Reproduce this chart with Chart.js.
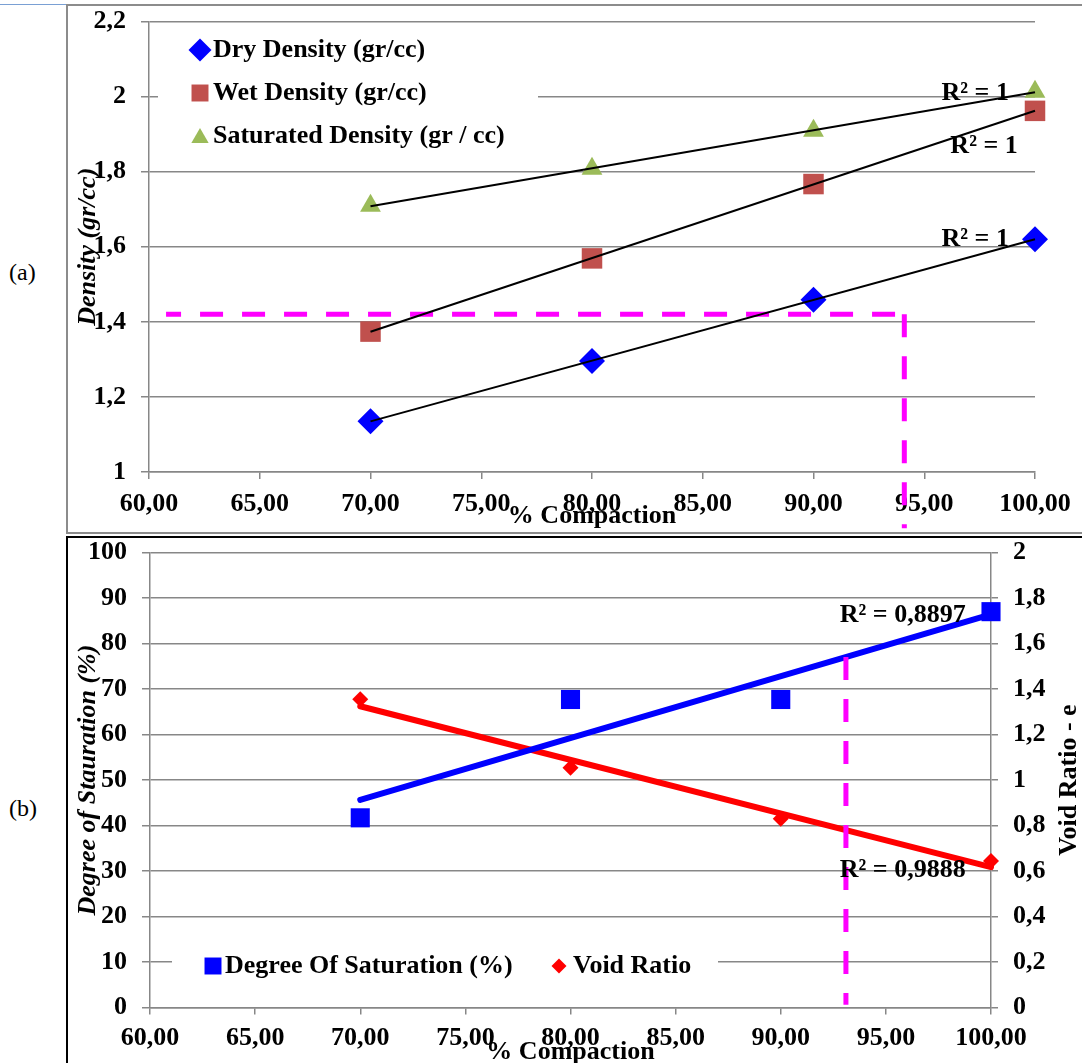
<!DOCTYPE html>
<html>
<head>
<meta charset="utf-8">
<script src="https://cdn.jsdelivr.net/npm/chart.js@4.4.1/dist/chart.umd.min.js"></script>
<style>
  body { margin: 0; width: 1082px; height: 1063px; overflow: hidden; background: #fff; position: relative; font-family: "Liberation Serif", "Times New Roman", serif; }
  .box { position: absolute; left: 66px; width: 1030px; box-sizing: border-box; }
  #boxA { top: 4px; height: 530px; border: 2px solid #8c8c8c; }
  #boxB { top: 536px; height: 600px; border: 2px solid #000; }
  #headLine { position: absolute; left: 0; top: 4px; width: 66px; height: 1px; background: #7aa0d4; }
  .tag { position: absolute; left: 9px; font-size: 24px; color: #000; }
  canvas { position: absolute; }
  #chartA { left: 69px; top: 7px; }
  #chartB { left: 69px; top: 539px; }
</style>
</head>
<body>
<div id="headLine"></div>
<div class="box" id="boxA"></div>
<div class="box" id="boxB"></div>
<div class="tag" style="top:259px">(a)</div>
<div class="tag" style="top:795px">(b)</div>
<canvas id="chartA" width="1013" height="525"></canvas>
<canvas id="chartB" width="1013" height="524"></canvas>
<script>
// values
const compaction = [70, 80, 90, 100];
const dryDensity = [1.135, 1.296, 1.459, 1.62];
const wetDensity = [1.374, 1.569, 1.767, 1.962];
const satDensity = [1.709, 1.808, 1.909, 2.013];
const saturation = [41.7, 67.7, 67.7, 87.0];
const voidRatio = [1.355, 1.054, 0.83, 0.644];

const compactionTicks = [60, 65, 70, 75, 80, 85, 90, 95, 100];
const densityTicks = [1, 1.2, 1.4, 1.6, 1.8, 2, 2.2];
const saturationTicks = [0, 10, 20, 30, 40, 50, 60, 70, 80, 90, 100];
const voidTicks = [0, 0.2, 0.4, 0.6, 0.8, 1, 1.2, 1.4, 1.6, 1.8, 2];

const densityLabels = ['Dry Density (gr/cc)', 'Wet Density (gr/cc)', 'Saturated Density (gr / cc)'];
const bottomLabels = ['Degree Of Saturation (%)', 'Void Ratio'];
const densityR2 = ['R² = 1', 'R² = 1', 'R² = 1'];
const densityR2At = [[97.3, 1.621], [97.7, 1.868], [97.3, 2.01]];
const bottomR2 = ['R² = 0,8897', 'R² = 0,9888'];
const bottomR2At = [[95.8, 86.3], [95.8, 0.605]];

// pink guide lines (data units)
const densityGuide = { from: 60.77, compaction: 94.1, density: 1.42, down: 0.85 };
const saturationGuide = { compaction: 93.1, down: 0.6 };

const serif = '"Liberation Serif", "Times New Roman", serif';
const gridColor = '#878787';
const tickFont = { family: serif, size: 26, weight: 'bold', lineHeight: 1.2 };
const pink = '#FF00FF';

function points(xs, ys) {
  return xs.map((x, i) => ({ x: x, y: ys[i] }));
}

function linearFit(xs, ys) {
  const n = xs.length;
  const mx = xs.reduce((a, b) => a + b, 0) / n;
  const my = ys.reduce((a, b) => a + b, 0) / n;
  let sxy = 0, sxx = 0;
  xs.forEach((x, i) => {
    sxy += (x - mx) * (ys[i] - my);
    sxx += (x - mx) * (x - mx);
  });
  const m = sxy / sxx;
  return x => my + m * (x - mx);
}

function trend(xs, ys) {
  const f = linearFit(xs, ys);
  const a = xs[0], b = xs[xs.length - 1];
  return [{ x: a, y: f(a) }, { x: b, y: f(b) }];
}

function comma(v, d) {
  return (d === undefined ? String(Math.round(v * 10) / 10) : v.toFixed(d)).replace('.', ',');
}

function marker(ctx, style, x, y, r, color) {
  ctx.save();
  ctx.fillStyle = color;
  ctx.beginPath();
  if (style === 'rectRot') {
    ctx.moveTo(x - r, y); ctx.lineTo(x, y - r); ctx.lineTo(x + r, y); ctx.lineTo(x, y + r);
  } else if (style === 'rect') {
    const s = r * Math.SQRT1_2;
    ctx.rect(x - s, y - s, 2 * s, 2 * s);
  } else {
    ctx.moveTo(x, y - r); ctx.lineTo(x + r * 0.866, y + r / 2); ctx.lineTo(x - r * 0.866, y + r / 2);
  }
  ctx.closePath();
  ctx.fill();
  ctx.restore();
}

function rotatedText(ctx, text, x, y, font) {
  ctx.save();
  ctx.translate(x, y);
  ctx.rotate(-Math.PI / 2);
  ctx.font = font;
  ctx.fillStyle = '#000';
  ctx.textAlign = 'center';
  ctx.textBaseline = 'middle';
  ctx.fillText(text, 0, 0);
  ctx.restore();
}

function dashed(ctx, x0, y0, x1, y1, offset) {
  ctx.save();
  ctx.strokeStyle = pink;
  ctx.lineWidth = 5;
  ctx.setLineDash([23, 19]);
  ctx.lineDashOffset = offset || 0;
  ctx.beginPath();
  ctx.moveTo(x0, y0);
  ctx.lineTo(x1, y1);
  ctx.stroke();
  ctx.restore();
}

function xScaleOpts(height, pad) {
  return {
    type: 'linear', min: 60, max: 100,
    afterBuildTicks: s => { s.ticks = compactionTicks.map(v => ({ value: v })); },
    grid: { drawOnChartArea: false, color: gridColor, lineWidth: 1.5, tickLength: 7 },
    border: { color: gridColor, width: 1.5 },
    ticks: { color: '#000', font: tickFont, padding: pad, maxRotation: 0, autoSkip: false, callback: v => comma(v, 2) },
    afterFit: s => { s.height = height; s.paddingLeft = 0; s.paddingRight = 0; }
  };
}

function yScaleOpts(pos, min, max, tickList, width, onChart) {
  return {
    type: 'linear', position: pos, min: min, max: max,
    afterBuildTicks: s => { s.ticks = tickList.map(v => ({ value: v })); },
    grid: { drawOnChartArea: onChart, color: gridColor, lineWidth: 1.5, tickLength: pos === 'left' ? 8 : 7 },
    border: { color: gridColor, width: 1.5 },
    ticks: { color: '#000', font: tickFont, padding: 15, autoSkip: false, callback: v => comma(v) },
    afterFit: s => { s.width = width; s.paddingTop = 0; s.paddingBottom = 0; }
  };
}

// ---------- (a) density ----------
const densitySeries = [dryDensity, wetDensity, satDensity];
const densityStyles = ['rectRot', 'rect', 'triangle'];
const densityColors = ['#0000FF', '#C0504D', '#9BBB59'];
const densityRadius = [13, 14.5, 12];

const overlayA = {
  id: 'overlayA',
  beforeDatasetsDraw(chart) {
    const ctx = chart.ctx;
    const { x, y } = chart.scales;
    ctx.save();
    ctx.fillStyle = '#fff';
    ctx.fillRect(89, 18, 380, 135);
    ctx.font = 'bold 26px ' + serif;
    ctx.fillStyle = '#000';
    ctx.textBaseline = 'middle';
    ctx.textAlign = 'left';
    const legendR = [11.5, 12, 10];
    densityLabels.forEach((lbl, i) => {
      const ly = 43 + i * 43;
      marker(ctx, densityStyles[i], 131, ly + (densityStyles[i] === 'triangle' ? 2 : 0), legendR[i], densityColors[i]);
      ctx.fillText(lbl, 144, ly);
    });
    ctx.restore();
    // guide lines
    const gy = y.getPixelForValue(densityGuide.density);
    const gx = x.getPixelForValue(densityGuide.compaction);
    dashed(ctx, x.getPixelForValue(densityGuide.from), gy, gx, gy, 8);
    dashed(ctx, gx, gy, gx, y.getPixelForValue(densityGuide.down), 0);
  },
  afterDatasetsDraw(chart) {
    const ctx = chart.ctx;
    const { x, y } = chart.scales;
    ctx.save();
    ctx.font = 'bold 26px ' + serif;
    ctx.fillStyle = '#000';
    ctx.textAlign = 'center';
    ctx.textBaseline = 'middle';
    densityR2.forEach((t, i) => {
      ctx.fillText(t, x.getPixelForValue(densityR2At[i][0]), y.getPixelForValue(densityR2At[i][1]));
    });
    ctx.restore();
  },
  afterDraw(chart) {
    const ctx = chart.ctx;
    const a = chart.chartArea;
    rotatedText(ctx, 'Density (gr/cc)', 19, (a.top + a.bottom) / 2, 'italic bold 26px ' + serif);
    ctx.save();
    ctx.font = 'bold 26px ' + serif;
    ctx.fillStyle = '#000';
    ctx.textAlign = 'center';
    ctx.textBaseline = 'middle';
    ctx.fillText('% Compaction', (a.left + a.right) / 2, 509);
    ctx.restore();
  }
};

const densityDatasets = [];
densitySeries.forEach((s, i) => {
  densityDatasets.push({
    label: densityLabels[i] + ' trend', data: trend(compaction, s), showLine: true,
    borderColor: '#000', borderWidth: 2, pointRadius: 0, order: 0, clip: false
  });
});
densitySeries.forEach((s, i) => {
  densityDatasets.push({
    label: densityLabels[i], data: points(compaction, s), pointStyle: densityStyles[i],
    pointRadius: densityRadius[i], backgroundColor: densityColors[i], borderWidth: 0, order: 1, clip: false
  });
});

new Chart(document.getElementById('chartA'), {
  type: 'scatter',
  data: { datasets: densityDatasets },
  options: {
    responsive: false, animation: false, events: [],
    layout: { padding: { top: 13, right: 47, left: 0, bottom: 0 } },
    plugins: { legend: { display: false }, tooltip: { enabled: false } },
    scales: {
      x: xScaleOpts(60, 10),
      y: yScaleOpts('left', 1, 2.2, densityTicks, 80, true)
    }
  },
  plugins: [overlayA]
});

// ---------- (b) saturation / void ratio ----------
const satTrend = linearFit(compaction, saturation);

const overlayB = {
  id: 'overlayB',
  beforeDatasetsDraw(chart) {
    const ctx = chart.ctx;
    ctx.save();
    ctx.fillStyle = '#fff';
    ctx.fillRect(103, 404, 546, 45);
    ctx.font = 'bold 26px ' + serif;
    ctx.fillStyle = '#000';
    ctx.textBaseline = 'middle';
    ctx.textAlign = 'left';
    marker(ctx, 'rect', 144, 427, 12, '#0000FF');
    ctx.fillText(bottomLabels[0], 156, 427);
    marker(ctx, 'rectRot', 490, 427, 7.5, '#FF0000');
    ctx.fillText(bottomLabels[1], 504, 427);
    ctx.restore();
  },
  afterDatasetsDraw(chart) {
    const ctx = chart.ctx;
    const { x, y, y1 } = chart.scales;
    const gx = x.getPixelForValue(saturationGuide.compaction);
    dashed(ctx, gx, y.getPixelForValue(satTrend(saturationGuide.compaction)), gx, y.getPixelForValue(saturationGuide.down), 0);
    ctx.save();
    ctx.font = 'bold 26px ' + serif;
    ctx.fillStyle = '#000';
    ctx.textAlign = 'center';
    ctx.textBaseline = 'middle';
    ctx.fillText(bottomR2[0], x.getPixelForValue(bottomR2At[0][0]), y.getPixelForValue(bottomR2At[0][1]));
    ctx.fillText(bottomR2[1], x.getPixelForValue(bottomR2At[1][0]), y1.getPixelForValue(bottomR2At[1][1]));
    ctx.restore();
  },
  afterDraw(chart) {
    const ctx = chart.ctx;
    const a = chart.chartArea;
    const mid = (a.top + a.bottom) / 2;
    rotatedText(ctx, 'Degree of Stauration (%)', 19, mid, 'italic bold 26px ' + serif);
    rotatedText(ctx, 'Void Ratio - e', 1000, mid, 'bold 26px ' + serif);
    ctx.save();
    ctx.font = 'bold 26px ' + serif;
    ctx.fillStyle = '#000';
    ctx.textAlign = 'center';
    ctx.textBaseline = 'middle';
    ctx.fillText('% Compaction', (a.left + a.right) / 2, 513);
    ctx.restore();
  }
};

new Chart(document.getElementById('chartB'), {
  type: 'scatter',
  data: {
    datasets: [
      { label: bottomLabels[0] + ' trend', data: trend(compaction, saturation), showLine: true,
        borderColor: '#0000FF', borderWidth: 6, borderCapStyle: 'round', pointRadius: 0, yAxisID: 'y', order: 0, clip: false },
      { label: bottomLabels[1] + ' trend', data: trend(compaction, voidRatio), showLine: true,
        borderColor: '#FF0000', borderWidth: 6, borderCapStyle: 'round', pointRadius: 0, yAxisID: 'y1', order: 0, clip: false },
      { label: bottomLabels[0], data: points(compaction, saturation), pointStyle: 'rect',
        pointRadius: 13.5, backgroundColor: '#0000FF', borderWidth: 0, yAxisID: 'y', order: 1, clip: false },
      { label: bottomLabels[1], data: points(compaction, voidRatio), pointStyle: 'rectRot',
        pointRadius: 8, backgroundColor: '#FF0000', borderWidth: 0, yAxisID: 'y1', order: 1, clip: false }
    ]
  },
  options: {
    responsive: false, animation: false, events: [],
    layout: { padding: { top: 13.4, right: 0, left: 0, bottom: 0 } },
    plugins: { legend: { display: false }, tooltip: { enabled: false } },
    scales: {
      x: xScaleOpts(55.4, 8),
      y: yScaleOpts('left', 0, 100, saturationTicks, 81, true),
      y1: yScaleOpts('right', 0, 2, voidTicks, 91, false)
    }
  },
  plugins: [overlayB]
});
</script>
</body>
</html>
